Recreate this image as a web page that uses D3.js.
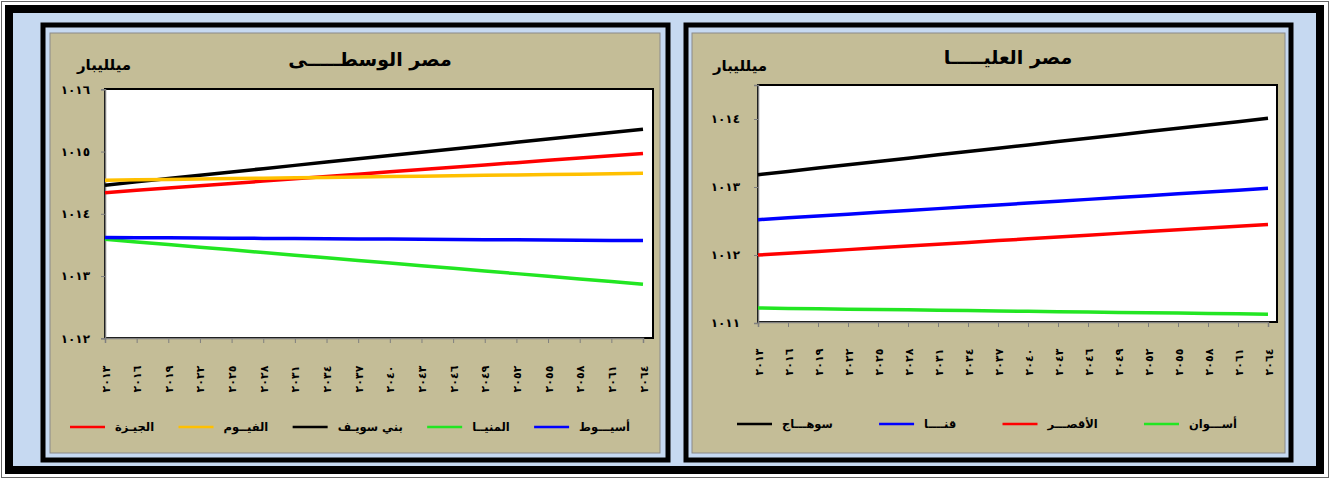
<!DOCTYPE html>
<html><head><meta charset="utf-8">
<script src="https://cdn.jsdelivr.net/npm/d3@7"></script>
<style>body{margin:0;background:#fff}svg{display:block}</style>
</head><body>
<svg id="c" width="1330" height="479"></svg>
<script>
// ---------- data ----------
const years = ["٢٠١٣","٢٠١٦","٢٠١٩","٢٠٢٢","٢٠٢٥","٢٠٢٨","٢٠٣١","٢٠٣٤","٢٠٣٧","٢٠٤٠","٢٠٤٣","٢٠٤٦","٢٠٤٩","٢٠٥٢","٢٠٥٥","٢٠٥٨","٢٠٦١","٢٠٦٤"];
const middleTitle = "مصر الوسطـــــى";
const upperTitle = "مصر العليـــــا";
const unitLabel = "ميلليبار";

const middleTickValues = [1012, 1013, 1014, 1015, 1016];
const middleTickLabels = ["١٠١٢", "١٠١٣", "١٠١٤", "١٠١٥", "١٠١٦"];
const upperTickValues = [1011, 1012, 1013, 1014];
const upperTickLabels = ["١٠١١", "١٠١٢", "١٠١٣", "١٠١٤"];

const middleNames = ["الجيـزة", "الفيــوم", "بني سويـف", "المنيــا", "أسيـــوط"];
const gizaValues    = [1014.340,1014.377,1014.414,1014.451,1014.488,1014.525,1014.562,1014.599,1014.636,1014.674,1014.711,1014.748,1014.785,1014.822,1014.859,1014.896,1014.933,1014.970];
const fayoumValues  = [1014.540,1014.546,1014.553,1014.559,1014.566,1014.572,1014.579,1014.585,1014.592,1014.598,1014.605,1014.611,1014.618,1014.624,1014.631,1014.637,1014.644,1014.650];
const beniSuefValues= [1014.460,1014.513,1014.566,1014.619,1014.672,1014.725,1014.778,1014.831,1014.884,1014.936,1014.989,1015.042,1015.095,1015.148,1015.201,1015.254,1015.307,1015.360];
const minyaValues   = [1013.590,1013.548,1013.505,1013.463,1013.421,1013.378,1013.336,1013.294,1013.251,1013.209,1013.166,1013.124,1013.082,1013.039,1012.997,1012.954,1012.912,1012.870];
const assiutValues  = [1013.620,1013.617,1013.614,1013.611,1013.608,1013.605,1013.602,1013.599,1013.596,1013.594,1013.591,1013.588,1013.585,1013.582,1013.579,1013.576,1013.573,1013.570];

const upperNames = ["سوهـــاج", "قنــــا", "الأقصـــر", "أســـوان"];
const sohagValues = [1013.180,1013.229,1013.278,1013.326,1013.375,1013.424,1013.473,1013.522,1013.571,1013.619,1013.668,1013.717,1013.766,1013.815,1013.864,1013.912,1013.961,1014.010];
const qenaValues  = [1012.520,1012.547,1012.574,1012.601,1012.628,1012.655,1012.682,1012.709,1012.736,1012.764,1012.791,1012.818,1012.845,1012.872,1012.899,1012.926,1012.953,1012.980];
const luxorValues = [1012.000,1012.026,1012.053,1012.079,1012.106,1012.132,1012.159,1012.185,1012.212,1012.238,1012.265,1012.291,1012.318,1012.344,1012.371,1012.397,1012.424,1012.450];
const aswanValues = [1011.220,1011.215,1011.209,1011.204,1011.199,1011.194,1011.188,1011.183,1011.178,1011.172,1011.167,1011.162,1011.156,1011.151,1011.146,1011.141,1011.135,1011.130];

// ---------- styles ----------
const RED = "#ff0000", ORANGE = "#ffc000", BLACK = "#000000", GREEN = "#22e622", BLUE = "#0000ff";
const KHAKI = "#c4bd97", LIGHTBLUE = "#c6d9f1";
const FONT = "'DejaVu Sans', sans-serif";

const svg = d3.select("#c");

svg.append("rect").attr("x", 1.5).attr("y", 1.5).attr("width", 1327).attr("height", 476)
  .attr("fill", "#fff").attr("stroke", "#666").attr("stroke-width", 1);
svg.append("rect").attr("x", 9).attr("y", 9).attr("width", 1311).attr("height", 461)
  .attr("fill", LIGHTBLUE).attr("stroke", "#000").attr("stroke-width", 8);

function drawPanel(cfg) {
  const g = svg.append("g");
  g.append("rect").attr("x", cfg.frame[0]).attr("y", cfg.frame[1]).attr("width", cfg.frame[2]).attr("height", cfg.frame[3])
    .attr("fill", LIGHTBLUE).attr("stroke", "#000").attr("stroke-width", 5);
  g.append("rect").attr("x", cfg.area[0]).attr("y", cfg.area[1]).attr("width", cfg.area[2]).attr("height", cfg.area[3])
    .attr("fill", KHAKI).attr("stroke", "#8a8a8a").attr("stroke-width", 1);

  const [px0, py0, px1, py1] = cfg.plot;
  const x = d3.scalePoint().domain(years).range([px0, cfg.lastX]);
  const y = d3.scaleLinear().domain(cfg.yDomain).range([cfg.yBottom, cfg.yTop]);

  g.append("rect").attr("x", px0).attr("y", py0).attr("width", px1 - px0).attr("height", py1 - py0)
    .attr("fill", "#fff").attr("stroke", "#000").attr("stroke-width", 2);

  const yAxis = d3.axisLeft(y).tickValues(cfg.tickValues).tickSize(4).tickPadding(cfg.yPad)
    .tickFormat((d, i) => cfg.tickLabels[i]);
  const ya = g.append("g").attr("transform", `translate(${px0},0)`).call(yAxis);
  ya.select(".domain").attr("stroke", "#7f7f7f").attr("stroke-width", 1.5);
  ya.selectAll(".tick line").attr("stroke", "#7f7f7f");
  ya.selectAll(".tick text").attr("font-family", FONT).attr("font-weight", "bold")
    .attr("font-size", 12).attr("fill", "#000");

  const xAxis = d3.axisBottom(x).tickSize(5).tickFormat("");
  const xa = g.append("g").attr("transform", `translate(0,${py1})`).call(xAxis);
  xa.select(".domain").attr("stroke", "#7f7f7f").attr("stroke-width", 1.5);
  xa.selectAll(".tick line").attr("stroke", "#7f7f7f");
  g.append("g").selectAll("text").data(years).join("text")
    .attr("transform", d => `translate(${x(d) + 1},${cfg.xLabelY}) rotate(-90)`)
    .attr("text-anchor", "middle").attr("dominant-baseline", "central")
    .attr("font-family", FONT).attr("font-weight", "bold").attr("font-size", 11)
    .attr("letter-spacing", 9)
    .text(d => d);

  const line = d3.line().x((d, i) => x(years[i])).y(d => y(d));
  cfg.series.forEach(s => {
    g.append("path").datum(s.values).attr("d", line).attr("fill", "none")
      .attr("stroke", s.color).attr("stroke-width", 3.5)
      .attr("shape-rendering", "geometricPrecision");
  });

  g.append("text").attr("x", cfg.titleX).attr("y", cfg.titleY).attr("text-anchor", "middle")
    .attr("font-family", FONT).attr("font-weight", "bold").attr("font-size", 19).text(cfg.title);
  g.append("text").attr("x", cfg.unitX).attr("y", cfg.unitY).attr("text-anchor", "middle")
    .attr("font-family", FONT).attr("font-weight", "bold").attr("font-size", 15).text(unitLabel);

  const lg = g.append("g");
  const items = cfg.legend.map(s => {
    const t = lg.append("text").attr("y", cfg.legendY).attr("dominant-baseline", "central")
      .attr("font-family", FONT).attr("font-weight", "bold").attr("font-size", 11.5).text(s.name);
    return { s, t, w: t.node().getComputedTextLength() };
  });
  const lineLen = 35, gapLT = 10;
  const used = items.reduce((a, it) => a + lineLen + gapLT + it.w, 0);
  const gap = (cfg.legendSpan[1] - cfg.legendSpan[0] - used) / (items.length - 1);
  let cx = cfg.legendSpan[0];
  items.forEach(it => {
    lg.append("line").attr("x1", cx).attr("x2", cx + lineLen).attr("y1", cfg.legendY).attr("y2", cfg.legendY)
      .attr("stroke", it.s.color).attr("stroke-width", 2.5);
    it.t.attr("x", cx + lineLen + gapLT).attr("text-anchor", "start");
    cx += lineLen + gapLT + it.w + gap;
  });
}

const middleSeries = [
  { name: middleNames[3], values: minyaValues, color: GREEN },
  { name: middleNames[2], values: beniSuefValues, color: BLACK },
  { name: middleNames[0], values: gizaValues, color: RED },
  { name: middleNames[1], values: fayoumValues, color: ORANGE },
  { name: middleNames[4], values: assiutValues, color: BLUE }
];
const middleLegend = [
  { name: middleNames[0], color: RED },
  { name: middleNames[1], color: ORANGE },
  { name: middleNames[2], color: BLACK },
  { name: middleNames[3], color: GREEN },
  { name: middleNames[4], color: BLUE }
];
drawPanel({
  frame: [43, 25, 625, 435], area: [50, 33, 610, 420],
  plot: [105, 89, 653, 338], lastX: 643,
  yDomain: [1012, 1016], yBottom: 338.3, yTop: 89.3, yPad: 11,
  tickValues: middleTickValues, tickLabels: middleTickLabels,
  xLabelY: 379,
  series: middleSeries, legend: middleLegend,
  title: middleTitle, titleX: 370, titleY: 66, unitX: 104, unitY: 70,
  legendY: 427, legendSpan: [70, 630]
});

const upperSeries = [
  { name: upperNames[3], values: aswanValues, color: GREEN },
  { name: upperNames[2], values: luxorValues, color: RED },
  { name: upperNames[1], values: qenaValues, color: BLUE },
  { name: upperNames[0], values: sohagValues, color: BLACK }
];
const upperLegend = [
  { name: upperNames[0], color: BLACK },
  { name: upperNames[1], color: BLUE },
  { name: upperNames[2], color: RED },
  { name: upperNames[3], color: GREEN }
];
drawPanel({
  frame: [686, 25, 605, 435], area: [692, 33, 593, 420],
  plot: [758, 85, 1277, 322], lastX: 1268,
  yDomain: [1011, 1014.5], yBottom: 323, yTop: 85, yPad: 14,
  tickValues: upperTickValues, tickLabels: upperTickLabels,
  xLabelY: 362,
  series: upperSeries, legend: upperLegend,
  title: upperTitle, titleX: 1008, titleY: 64, unitX: 740, unitY: 71,
  legendY: 424, legendSpan: [737, 1237]
});
</script>
</body></html>
